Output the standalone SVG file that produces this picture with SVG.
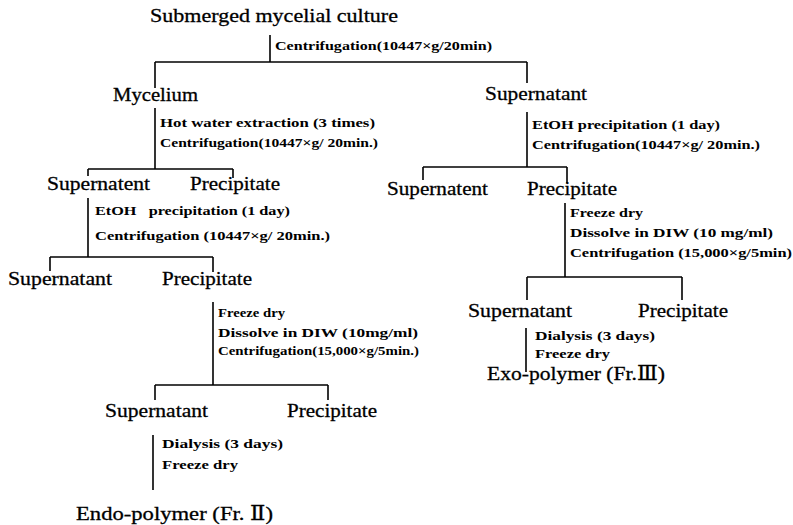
<svg xmlns="http://www.w3.org/2000/svg" width="793" height="525" viewBox="0 0 793 525">
<style>
.n{font-family:"Liberation Serif","DejaVu Serif",serif;font-size:19.5px;fill:#000;stroke:#000;stroke-width:0.3}
.s{font-family:"Liberation Serif","DejaVu Serif",serif;font-size:12.5px;font-weight:bold;fill:#000}
.c line{stroke:#000;stroke-width:1.6;fill:none}
</style>
<rect width="793" height="525" fill="#fff"/>
<g id="connectors" class="c">
<line x1="270" y1="35" x2="270" y2="62"/>
<line x1="155" y1="62" x2="527" y2="62"/>
<line x1="155" y1="62" x2="155" y2="88"/>
<line x1="527" y1="62" x2="527" y2="83"/>
<line x1="155" y1="108" x2="155" y2="169"/>
<line x1="88" y1="169" x2="233" y2="169"/>
<line x1="88" y1="169" x2="88" y2="176"/>
<line x1="233" y1="169" x2="233" y2="178"/>
<line x1="88" y1="198" x2="88" y2="257"/>
<line x1="50" y1="257" x2="213" y2="257"/>
<line x1="50" y1="257" x2="50" y2="271"/>
<line x1="213" y1="257" x2="213" y2="272"/>
<line x1="213" y1="302" x2="213" y2="385"/>
<line x1="155" y1="385" x2="328" y2="385"/>
<line x1="155" y1="385" x2="155" y2="400"/>
<line x1="328" y1="385" x2="328" y2="400"/>
<line x1="153" y1="435" x2="153" y2="490"/>
<line x1="527" y1="112" x2="527" y2="167"/>
<line x1="423" y1="167" x2="567" y2="167"/>
<line x1="423" y1="167" x2="423" y2="180"/>
<line x1="567" y1="167" x2="567" y2="183"/>
<line x1="565" y1="203" x2="565" y2="277"/>
<line x1="527" y1="277" x2="682" y2="277"/>
<line x1="527" y1="277" x2="527" y2="300"/>
<line x1="682" y1="277" x2="682" y2="300"/>
<line x1="526" y1="328" x2="526" y2="372"/>
</g>
<g id="labels">
<text class="s" x="275" y="50" textLength="217" lengthAdjust="spacingAndGlyphs">Centrifugation(10447×g/20min)</text>
<text class="s" x="160" y="127" textLength="215" lengthAdjust="spacingAndGlyphs">Hot water extraction (3 times)</text>
<text class="s" x="160" y="147" textLength="218" lengthAdjust="spacingAndGlyphs">Centrifugation(10447×g/ 20min.)</text>
<text class="s" x="532" y="129" textLength="188" lengthAdjust="spacingAndGlyphs">EtOH precipitation (1 day)</text>
<text class="s" x="532" y="149" textLength="228" lengthAdjust="spacingAndGlyphs">Centrifugation(10447×g/ 20min.)</text>
<text class="s" x="95" y="215" textLength="195" lengthAdjust="spacingAndGlyphs" xml:space="preserve">EtOH   precipitation (1 day)</text>
<text class="s" x="95" y="240" textLength="235" lengthAdjust="spacingAndGlyphs">Centrifugation (10447×g/ 20min.)</text>
<text class="s" x="218" y="317" textLength="67" lengthAdjust="spacingAndGlyphs">Freeze dry</text>
<text class="s" x="218" y="337" textLength="200" lengthAdjust="spacingAndGlyphs">Dissolve in DIW (10mg/ml)</text>
<text class="s" x="218" y="355" textLength="201" lengthAdjust="spacingAndGlyphs">Centrifugation(15,000×g/5min.)</text>
<text class="s" x="570" y="217" textLength="73" lengthAdjust="spacingAndGlyphs">Freeze dry</text>
<text class="s" x="570" y="237" textLength="203" lengthAdjust="spacingAndGlyphs">Dissolve in DIW (10 mg/ml)</text>
<text class="s" x="570" y="257" textLength="222" lengthAdjust="spacingAndGlyphs">Centrifugation (15,000×g/5min)</text>
<text class="s" x="535" y="340" textLength="120" lengthAdjust="spacingAndGlyphs">Dialysis (3 days)</text>
<text class="s" x="535" y="358" textLength="75" lengthAdjust="spacingAndGlyphs">Freeze dry</text>
<text class="s" x="162" y="448" textLength="121" lengthAdjust="spacingAndGlyphs">Dialysis (3 days)</text>
<text class="s" x="162" y="469" textLength="76" lengthAdjust="spacingAndGlyphs">Freeze dry</text>
</g>
<g id="culture"><text class="n" x="150" y="22" textLength="248" lengthAdjust="spacingAndGlyphs">Submerged mycelial culture</text></g>
<g id="mycelium"><text class="n" x="113" y="101" textLength="85" lengthAdjust="spacingAndGlyphs">Mycelium</text></g>
<g id="supernatant1"><text class="n" x="485" y="100" textLength="102" lengthAdjust="spacingAndGlyphs">Supernatant</text></g>
<g id="m-supernatent"><text class="n" x="47" y="190" textLength="103" lengthAdjust="spacingAndGlyphs">Supernatent</text></g>
<g id="m-precipitate"><text class="n" x="190" y="190" textLength="90" lengthAdjust="spacingAndGlyphs">Precipitate</text></g>
<g id="s-supernatent"><text class="n" x="387" y="195" textLength="101" lengthAdjust="spacingAndGlyphs">Supernatent</text></g>
<g id="s-precipitate"><text class="n" x="527" y="195" textLength="90" lengthAdjust="spacingAndGlyphs">Precipitate</text></g>
<g id="m2-supernatant"><text class="n" x="8" y="285" textLength="104" lengthAdjust="spacingAndGlyphs">Supernatant</text></g>
<g id="m2-precipitate"><text class="n" x="162" y="285" textLength="90" lengthAdjust="spacingAndGlyphs">Precipitate</text></g>
<g id="m3-supernatant"><text class="n" x="105" y="417" textLength="103" lengthAdjust="spacingAndGlyphs">Supernatant</text></g>
<g id="m3-precipitate"><text class="n" x="287" y="417" textLength="90" lengthAdjust="spacingAndGlyphs">Precipitate</text></g>
<g id="s2-supernatant"><text class="n" x="468" y="317" textLength="104" lengthAdjust="spacingAndGlyphs">Supernatant</text></g>
<g id="s2-precipitate"><text class="n" x="638" y="317" textLength="90" lengthAdjust="spacingAndGlyphs">Precipitate</text></g>
<g id="exo"><text class="n" x="487" y="380" textLength="178" lengthAdjust="spacingAndGlyphs">Exo-polymer (Fr.Ⅲ)</text></g>
<g id="endo"><text class="n" x="76" y="520" textLength="197" lengthAdjust="spacingAndGlyphs">Endo-polymer (Fr. Ⅱ)</text></g>
</svg>
